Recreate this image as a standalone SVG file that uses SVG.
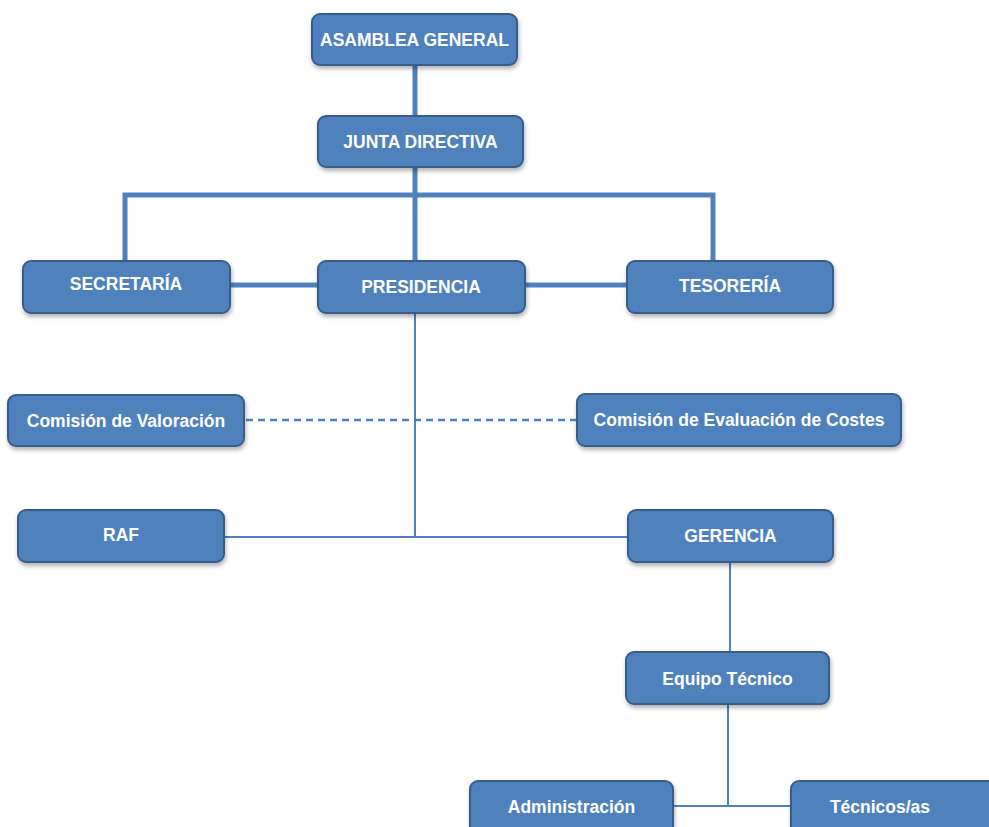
<svg xmlns="http://www.w3.org/2000/svg" width="989" height="827" viewBox="0 0 989 827">
<defs>
<filter id="sh" x="-10%" y="-20%" width="130%" height="160%">
<feDropShadow dx="1" dy="3" stdDeviation="2" flood-color="#000" flood-opacity="0.3"/>
</filter>
<style>
.box{fill:#4F81BD;stroke:#385D8A;stroke-width:2;filter:url(#sh)}
.t{fill:#fff;font-family:"Liberation Sans",Arial,sans-serif;font-weight:bold;font-size:17.5px;text-anchor:middle;dominant-baseline:central}
.thick{stroke:#4F81BD;stroke-width:5;fill:none}
.thin{stroke:#4F81BD;stroke-width:2;fill:none}
.dash{stroke:#4F81BD;stroke-width:2.5;stroke-dasharray:7 5;fill:none}
</style>
</defs>
<rect width="989" height="827" fill="#fff"/>
<g id="connectors">
<line class="thick" x1="415" y1="65" x2="415" y2="116"/>
<line class="thick" x1="415" y1="167" x2="415" y2="261"/>
<polyline class="thick" points="125,261 125,195 713,195 713,261"/>
<line class="thick" x1="230" y1="285" x2="318" y2="285"/>
<line class="thick" x1="525" y1="285" x2="627" y2="285"/>
<line class="thin" x1="415" y1="313" x2="415" y2="537"/>
<line class="dash" x1="246" y1="420" x2="577" y2="420"/>
<line class="thin" x1="224" y1="537" x2="628" y2="537"/>
<line class="thin" x1="730" y1="562" x2="730" y2="652"/>
<line class="thin" x1="728" y1="704" x2="728" y2="806"/>
<line class="thin" x1="673" y1="806" x2="790" y2="806"/>
</g>
<g id="asamblea"><rect class="box" x="312" y="14" width="205" height="51" rx="8"/><text class="t" x="414.5" y="40">ASAMBLEA GENERAL</text></g>
<g id="junta"><rect class="box" x="318" y="116" width="205" height="51" rx="8"/><text class="t" x="420.5" y="142">JUNTA DIRECTIVA</text></g>
<g id="secretaria"><rect class="box" x="23" y="261" width="207" height="52" rx="8"/><text class="t" x="126" y="284">SECRETARÍA</text></g>
<g id="presidencia"><rect class="box" x="318" y="261" width="207" height="52" rx="8"/><text class="t" x="421" y="287">PRESIDENCIA</text></g>
<g id="tesoreria"><rect class="box" x="627" y="261" width="206" height="52" rx="8"/><text class="t" x="730" y="286">TESORERÍA</text></g>
<g id="valoracion"><rect class="box" x="8" y="395" width="236" height="51" rx="8"/><text class="t" x="126" y="421">Comisión de Valoración</text></g>
<g id="costes"><rect class="box" x="577" y="394" width="324" height="52" rx="8"/><text class="t" x="739" y="420">Comisión de Evaluación de Costes</text></g>
<g id="raf"><rect class="box" x="18" y="510" width="206" height="52" rx="8"/><text class="t" x="121" y="535">RAF</text></g>
<g id="gerencia"><rect class="box" x="628" y="510" width="205" height="52" rx="8"/><text class="t" x="730.5" y="536">GERENCIA</text></g>
<g id="equipo"><rect class="box" x="626" y="652" width="203" height="52" rx="8"/><text class="t" x="727.5" y="679">Equipo Técnico</text></g>
<g id="administracion"><rect class="box" x="470" y="781" width="203" height="60" rx="8"/><text class="t" x="571.5" y="807">Administración</text></g>
<g id="tecnicos"><rect class="box" x="791" y="781" width="210" height="60" rx="8"/><text class="t" x="880" y="807">Técnicos/as</text></g>
</svg>
